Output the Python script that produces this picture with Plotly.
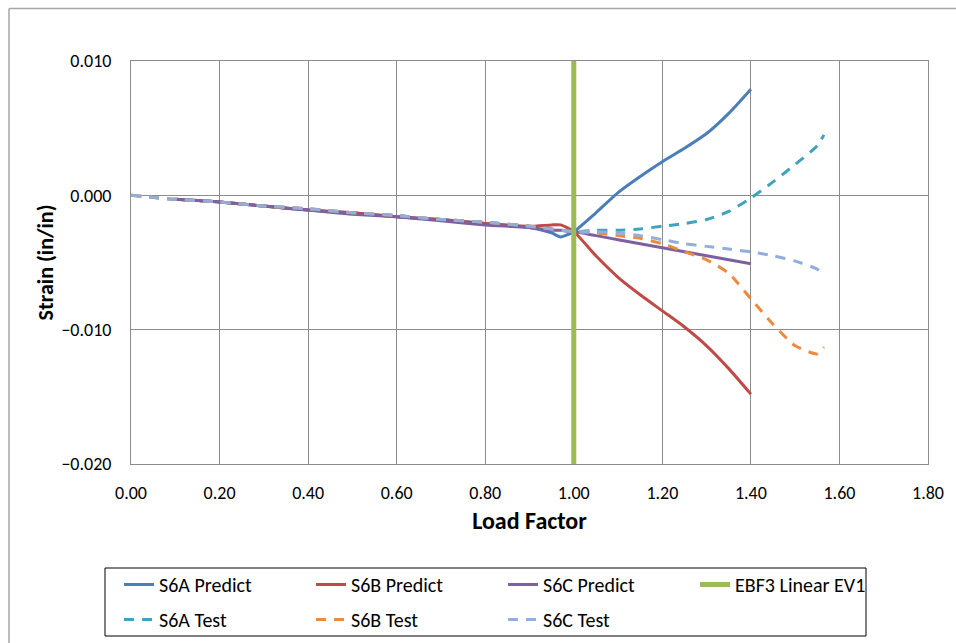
import plotly.graph_objects as go

# ---- data ----
lf_pred = [0.1, 0.2, 0.3, 0.4, 0.5, 0.6, 0.7, 0.8, 0.9, 0.95, 0.97, 1.0,
           1.05, 1.1, 1.15, 1.2, 1.25, 1.3, 1.35, 1.4]
s6a_pred = [-0.0003, -0.0005, -0.0008, -0.0011, -0.0013, -0.0016, -0.0018, -0.0021,
            -0.0024, -0.0028, -0.0031, -0.0027,
            -0.0013, 0.0002, 0.0014, 0.0025, 0.0035, 0.0046, 0.0061, 0.0079]
s6b_pred = [-0.0003, -0.0005, -0.0008, -0.0011, -0.0013, -0.0016, -0.0018, -0.0021,
            -0.0023, -0.0022, -0.0022, -0.0027,
            -0.0045, -0.0061, -0.0074, -0.0086, -0.0098, -0.0112, -0.0129, -0.0148]
s6c_pred = [-0.0003, -0.0005, -0.0008, -0.0011, -0.0014, -0.0016, -0.0019, -0.0022,
            -0.0024, -0.0026, -0.0026, -0.0027,
            -0.0030, -0.0033, -0.0036, -0.0039, -0.0042, -0.0045, -0.0048, -0.0051]

lf_test = [0.0, 0.1, 0.2, 0.3, 0.4, 0.5, 0.6, 0.7, 0.8, 0.9, 1.0,
           1.05, 1.1, 1.15, 1.2, 1.25, 1.3, 1.35, 1.4, 1.45, 1.5, 1.55, 1.565]
s6a_test = [0.0, -0.0003, -0.0005, -0.0008, -0.0010, -0.0013, -0.0015, -0.0018, -0.0020,
            -0.0023, -0.0027,
            -0.0026, -0.0026, -0.0025, -0.0023, -0.0021, -0.0018, -0.0012, -0.0002,
            0.0010, 0.0023, 0.0037, 0.0045]
s6b_test = [0.0, -0.0003, -0.0005, -0.0008, -0.0010, -0.0013, -0.0015, -0.0018, -0.0020,
            -0.0023, -0.0027,
            -0.0028, -0.0030, -0.0032, -0.0036, -0.0042, -0.0048, -0.0058, -0.0077,
            -0.0096, -0.0112, -0.0118, -0.0113]
s6c_test = [0.0, -0.0003, -0.0005, -0.0008, -0.0010, -0.0013, -0.0015, -0.0018, -0.0020,
            -0.0023, -0.0027,
            -0.0027, -0.0028, -0.0030, -0.0033, -0.0036, -0.0038, -0.0040, -0.0042,
            -0.0045, -0.0049, -0.0055, -0.0060]

ebf3_x = [1.0, 1.0]
ebf3_y = [-0.020, 0.010]

x_ticks = [0.0, 0.2, 0.4, 0.6, 0.8, 1.0, 1.2, 1.4, 1.6, 1.8]
y_ticks = [-0.020, -0.010, 0.000, 0.010]

# ---- layout geometry (page pixels; body margin removed) ----
OFF = 0
W, H = 956, 643
ML, MT = 131 - OFF, 61 - OFF
MR = W - (928 - OFF)
MB = H - (464 - OFF)
PW, PH = W - ML - MR, H - MT - MB


def px(x):  # page x -> paper
    return (x - OFF - ML) / PW


def py(y):  # page y -> paper
    return (H - MB - (y - OFF)) / PH


FONT = "Carlito, Calibri, Lato, 'Liberation Sans', sans-serif"

C_A, C_B, C_C = "#4A7EBB", "#BE4B48", "#7D60A0"
C_E = "#9BBB59"
C_AT, C_BT, C_CT = "#3FA3BF", "#EE8A3E", "#93AEDA"

fig = go.Figure()


def add(x, y, name, color, width, dash, legend):
    fig.add_trace(go.Scatter(
        x=x, y=y, name=name, mode="lines",
        line=dict(color=color, width=width, dash=dash, shape="spline", smoothing=0.6),
        legend=legend))


add(lf_pred, s6a_pred, "S6A Predict", C_A, 3, "solid", "legend")
add(lf_pred, s6b_pred, "S6B Predict", C_B, 3, "solid", "legend")
add(lf_pred, s6c_pred, "S6C Predict", C_C, 3, "solid", "legend")
fig.add_trace(go.Scatter(x=ebf3_x, y=ebf3_y, name="EBF3 Linear EV1", mode="lines",
                         line=dict(color=C_E, width=5), legend="legend"))
add(lf_test, s6a_test, "S6A Test", C_AT, 3, "10px,8px", "legend2")
add(lf_test, s6b_test, "S6B Test", C_BT, 3, "10px,8px", "legend2")
add(lf_test, s6c_test, "S6C Test", C_CT, 3, "10px,8px", "legend2")

leg_common = dict(orientation="h", xanchor="left", yanchor="top",
                  entrywidth=147, entrywidthmode="pixels",
                  font=dict(family=FONT, size=20, color="#000000"),
                  bgcolor="rgba(0,0,0,0)", borderwidth=0, traceorder="normal")

FRAME = dict(color="#A6A6A6", width=1.5)

fig.update_layout(
    width=W, height=H,
    margin=dict(l=ML, r=MR, t=MT, b=MB, autoexpand=False),
    paper_bgcolor="white", plot_bgcolor="white",
    font=dict(family=FONT, color="#000000"),
    legend=dict(x=px(119), y=py(565), **leg_common),
    legend2=dict(x=px(119), y=py(600), **leg_common),
    xaxis=dict(range=[0, 1.8], tickvals=x_ticks, tickformat=".2f",
               showgrid=True, gridcolor="#8C8C8C", gridwidth=1,
               showline=True, linecolor="#8C8C8C", linewidth=1, mirror=True,
               zeroline=False, ticks="", tickfont=dict(size=18),
               ticklabelstandoff=12,
               title=dict(text="<b>Load Factor</b>", font=dict(size=24), standoff=9)),
    yaxis=dict(range=[-0.020, 0.010], tickvals=y_ticks, tickformat=".3f",
               showgrid=True, gridcolor="#8C8C8C", gridwidth=1,
               showline=True, linecolor="#8C8C8C", linewidth=1, mirror=True,
               zeroline=False, ticks="", tickfont=dict(size=18),
               ticklabelstandoff=15,
               title=dict(text="<b>Strain (in/in)</b>", font=dict(size=22), standoff=1)),
    shapes=[
        # outer chart frame (left and top edges visible)
        dict(type="line", xref="paper", yref="paper",
             x0=px(9), x1=px(9), y0=py(8.5), y1=py(643), line=FRAME),
        dict(type="line", xref="paper", yref="paper",
             x0=px(9), x1=px(956), y0=py(8.5), y1=py(8.5), line=FRAME),
        # legend box
        dict(type="rect", xref="paper", yref="paper",
             x0=px(105), x1=px(866), y0=py(568), y1=py(636),
             line=dict(color="#000000", width=1), layer="below"),
    ],
)

fig.write_html(
    "out.html",
    config={"displayModeBar": False},
    post_script="document.body.style.margin='0';document.body.style.overflow='hidden';",
)
